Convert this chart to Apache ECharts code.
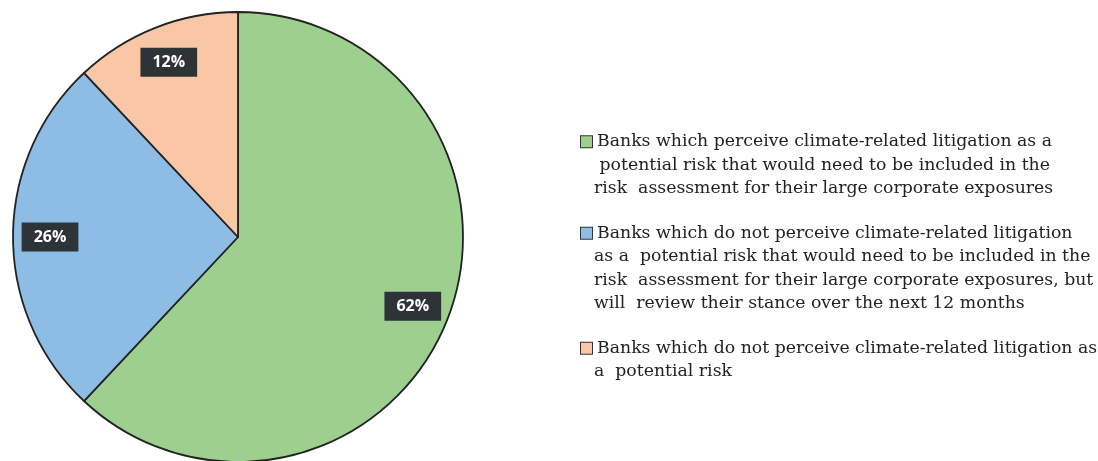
<!DOCTYPE html>
<html>
<head>
<meta charset="utf-8">
<script src="https://cdn.jsdelivr.net/npm/echarts@6/dist/echarts.min.js"></script>
<style>
  html, body { margin: 0; padding: 0; background: #ffffff; }
  #chart { width: 1098px; height: 461px; }
</style>
</head>
<body>
<div id="chart"></div>
<script>
// Survey answers: each category is written as the lines shown in the legend
const categories = [
  ['Banks which perceive climate-related litigation as a',
   ' potential risk that would need to be included in the',
   'risk  assessment for their large corporate exposures'],
  ['Banks which do not perceive climate-related litigation',
   'as a  potential risk that would need to be included in the',
   'risk  assessment for their large corporate exposures, but',
   'will  review their stance over the next 12 months'],
  ['Banks which do not perceive climate-related litigation as',
   'a  potential risk']
];
const shares = [62, 26, 12];
const colors = ['#9dd08f', '#8dbce4', '#f9c6a6'];

const names = categories.map(lines => lines.join(' '));
const linesByName = {};
names.forEach((n, i) => { linesByName[n] = { lines: categories[i], idx: i }; });

const data = names.map((n, i) => ({ name: n, value: shares[i], itemStyle: { color: colors[i] } }));

const legendFont = 'DejaVu Serif';
const rich = {
  g: { width: 5, height: 12 },
  i: { width: 13, height: 12 },
  t: { fontFamily: legendFont, fontSize: 17.3, color: '#222', lineHeight: 23.5 }
};
colors.forEach((c, i) => {
  rich['m' + i] = { width: 11, height: 11, backgroundColor: c, borderColor: '#333', borderWidth: 1 };
});

const chart = echarts.init(document.getElementById('chart'), null, { renderer: 'canvas' });
chart.setOption({
  animation: false,
  legend: {
    orient: 'vertical',
    left: 571,
    top: 125,
    itemGap: 21,
    itemWidth: 0,
    itemHeight: 0,
    icon: 'rect',
    itemStyle: { opacity: 0, borderWidth: 0 },
    data: names,
    formatter: function (name) {
      const info = linesByName[name];
      return info.lines.map((l, k) =>
        (k === 0 ? '{m' + info.idx + '|}{g|}' : '{i|}') + '{t|' + l + '}'
      ).join('\n');
    },
    textStyle: { rich: rich, lineHeight: 23.5 }
  },
  series: [
    {
      type: 'pie',
      center: [238, 237],
      radius: [0, 225],
      startAngle: 90,
      clockwise: true,
      label: { show: false },
      labelLine: { show: false },
      itemStyle: { borderColor: '#222', borderWidth: 1.8 },
      emphasis: { disabled: true },
      data: data
    },
    {
      // transparent ring that carries the percentage labels
      type: 'pie',
      center: [238, 237],
      radius: [145, 225],
      startAngle: 90,
      clockwise: true,
      silent: true,
      z: 3,
      itemStyle: { color: 'rgba(0,0,0,0)', borderWidth: 0 },
      label: {
        show: true,
        position: 'inside',
        formatter: '{c}%',
        color: '#ffffff',
        fontFamily: 'Open Sans',
        fontWeight: 'bold',
        fontSize: 16,
        backgroundColor: '#2e3337',
        padding: [7, 12, 6, 12]
      },
      labelLine: { show: false },
      emphasis: { disabled: true },
      data: names.map((n, i) => ({ name: n, value: shares[i] }))
    }
  ]
});
</script>
</body>
</html>
